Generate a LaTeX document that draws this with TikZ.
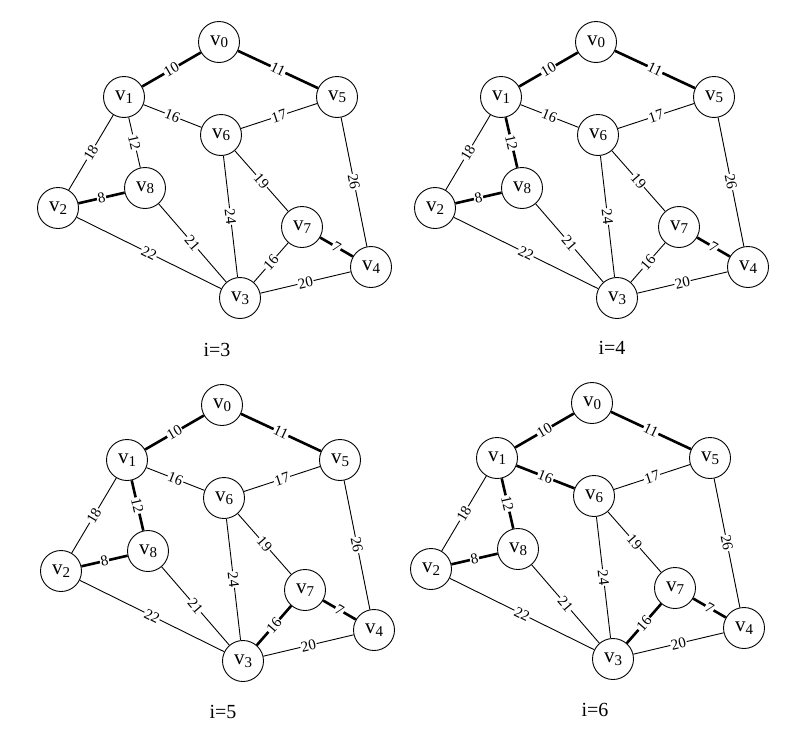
\documentclass[tikz,border=0pt]{standalone}
\usepackage{fontspec}
\setmainfont{Liberation Serif}
\newcommand\vlab[1]{v\raisebox{-2.5pt}{\fontsize{15}{15}\selectfont #1}}
\tikzset{
  vert/.style={circle, draw, fill=white, minimum size=41pt, inner sep=0pt, line width=0.9pt,
    font=\fontsize{21}{21}\selectfont},
  edge/.style={line width=0.9pt},
  thickedge/.style={line width=2.6pt},
  wlab/.style={sloped, fill=white, inner sep=0.8pt, font=\fontsize{15}{15}\selectfont},
  caption/.style={font=\fontsize{20}{20}\selectfont, inner sep=0pt},
  e10/.style={}, e05/.style={}, e16/.style={}, e65/.style={}, e12/.style={},
  e18/.style={}, e28/.style={}, e83/.style={}, e23/.style={}, e63/.style={},
  e67/.style={}, e54/.style={}, e74/.style={}, e37/.style={}, e34/.style={}
}
\newcommand\mstpanel[3]{%
\begin{scope}[shift={#2}, #3]
  \node[vert] (#1v0) at (219,42) {\vlab{0}};
  \node[vert] (#1v1) at (124,97) {\vlab{1}};
  \node[vert] (#1v5) at (337,97) {\vlab{5}};
  \node[vert] (#1v6) at (221,135) {\vlab{6}};
  \node[vert] (#1v8) at (145,188) {\vlab{8}};
  \node[vert] (#1v2) at (58,208) {\vlab{2}};
  \node[vert] (#1v7) at (302,227) {\vlab{7}};
  \node[vert] (#1v4) at (371,267) {\vlab{4}};
  \node[vert] (#1v3) at (240,298) {\vlab{3}};
  \foreach \a/\b/\w in {1/0/10, 0/5/11, 1/6/16, 6/5/17, 1/2/18, 1/8/12, 2/8/8,
      8/3/21, 2/3/22, 6/3/24, 6/7/19, 5/4/26, 7/4/7, 3/7/16, 3/4/20}
    \draw[edge, e\a\b] (#1v\a) -- node[wlab] {\w} (#1v\b);
\end{scope}}
\begin{document}
\begin{tikzpicture}[x=1pt, y=-1pt]
  \useasboundingbox (0,0) rectangle (796,731);
  \fill[white] (0,0) rectangle (796,731);
  \mstpanel{a}{(0,0)}{e10/.style=thickedge, e05/.style=thickedge, e28/.style=thickedge, e74/.style=thickedge}
  \mstpanel{b}{(377,0)}{e10/.style=thickedge, e05/.style=thickedge, e28/.style=thickedge, e74/.style=thickedge, e18/.style=thickedge}
  \mstpanel{c}{(3,363)}{e10/.style=thickedge, e05/.style=thickedge, e28/.style=thickedge, e74/.style=thickedge, e18/.style=thickedge, e37/.style=thickedge}
  \mstpanel{d}{(373,361)}{e10/.style=thickedge, e05/.style=thickedge, e28/.style=thickedge, e74/.style=thickedge, e18/.style=thickedge, e37/.style=thickedge, e16/.style=thickedge}
  \node[caption] (cap3) at (217,350) {i=3};
  \node[caption] (cap4) at (612,348) {i=4};
  \node[caption] (cap5) at (223,712) {i=5};
  \node[caption] (cap6) at (595,710) {i=6};
\end{tikzpicture}
\end{document}
